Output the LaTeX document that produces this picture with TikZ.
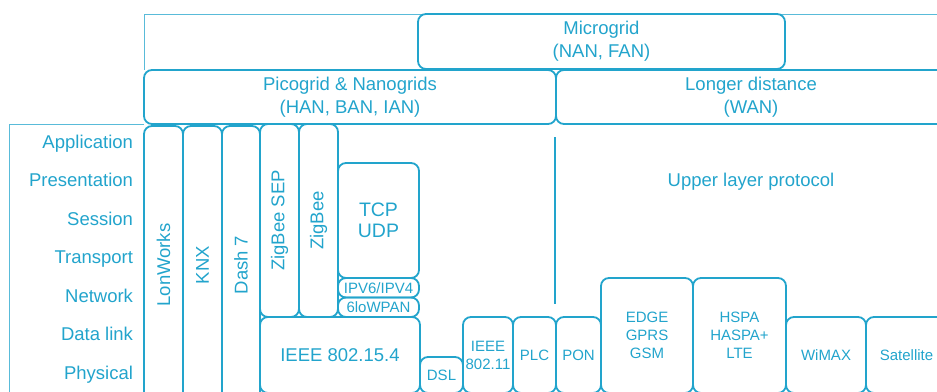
\documentclass[tikz,border=0pt]{standalone}
\usepackage{fontspec}
\setmainfont{Liberation Sans}
\usepackage{xcolor}
\usetikzlibrary{positioning}
\definecolor{gridblue}{RGB}{34,164,204}

\begin{document}
\begin{tikzpicture}[
    x=1pt, y=-1pt,
    every node/.style={text=gridblue, inner sep=0pt, outer sep=0pt, align=center},
    frame/.style={draw=gridblue!75, line width=1pt},
    box/.style={draw=gridblue, line width=1.8pt, rounded corners=8pt, anchor=north west},
    vbox/.style={box, anchor=center, rotate=90},
    big/.style={font=\fontsize{18.5}{23}\selectfont},
    small/.style={font=\fontsize{15}{18}\selectfont},
    layer/.style={big, anchor=base east}
]
\useasboundingbox (0,0) rectangle (937,391);
\clip (0,0) rectangle (937,391);

% outer frame lines
\draw[frame] (144,70) -- (144,14) -- (950,14);
\draw[frame] (144,124) -- (9,124) -- (9,400);

% network ranges
\node[box, big, minimum width=367pt, minimum height=55pt] (micro) at (418,14) {Microgrid\\(NAN, FAN)};
\node[box, big, minimum width=412pt, minimum height=54pt] (pico) at (144,70) {Picogrid \& Nanogrids\\(HAN, BAN, IAN)};
\node[box, big, minimum width=390pt, minimum height=54pt] (wan) at (556,70) {Longer distance\\(WAN)};

% OSI layers
\foreach \lname [count=\i] in {Application,Presentation,Session,Transport,Network,Data link,Physical}
  \node[layer] (layer\i) at (133,{148+38.5*(\i-1)}) {\lname};

% home / building protocols
\node[vbox, big, minimum width=278pt, minimum height=39pt] (lonworks) at (163.5,265) {LonWorks};
\node[vbox, big, minimum width=278pt, minimum height=39pt] (knx) at (202.5,265) {KNX};
\node[vbox, big, minimum width=278pt, minimum height=38pt] (dash) at (241,265) {Dash 7};
\node[vbox, big, minimum width=193pt, minimum height=39pt] (zigsep) at (279.5,220.5) {ZigBee SEP};
\node[vbox, big, minimum width=193pt, minimum height=39pt] (zigbee) at (318.5,220.5) {ZigBee};
\node[box, font=\fontsize{19.5}{21.5}\selectfont, minimum width=81pt, minimum height=115pt] (tcp) at (338,163) {TCP\\UDP};
\node[box, small, minimum width=81pt, minimum height=19.5pt] (ipv) at (338,278) {IPV6/IPV4};
\node[box, small, minimum width=81pt, minimum height=19.5pt] (lowpan) at (338,297.5) {6loWPAN};
\node[box, big, minimum width=160pt, minimum height=76pt] (ieee154) at (260,317) {IEEE 802.15.4};

% access protocols
\node[box, small, minimum width=43pt, minimum height=36pt] (dsl) at (420,357) {DSL};
\node[box, small, minimum width=50pt, minimum height=76pt] (wifi) at (463,317) {IEEE\\802.11};
\node[box, small, minimum width=43pt, minimum height=76pt] (plc) at (513,317) {PLC};
\node[box, small, minimum width=45pt, minimum height=76pt] (pon) at (556,317) {PON};
\node[box, small, minimum width=92pt, minimum height=115pt] (edge) at (601,278) {EDGE\\GPRS\\GSM};
\node[box, small, minimum width=93pt, minimum height=115pt] (hspa) at (693,278) {HSPA\\HASPA+\\LTE};
\node[box, small, minimum width=80pt, minimum height=76pt] (wimax) at (786,317) {WiMAX};
\node[box, small, minimum width=81pt, minimum height=76pt] (sat) at (866,317) {Satellite};

% upper layers of WAN
\node[big] (upper) at (751,182) {Upper layer protocol};
\coordinate (split top) at (555,137);
\coordinate (split bot) at (555,304);
\draw[draw=gridblue, line width=1.4pt] (split top) -- (split bot);
\end{tikzpicture}
\end{document}
